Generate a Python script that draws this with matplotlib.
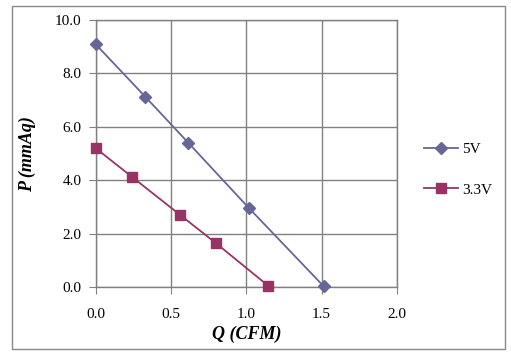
"""
Fan P-Q curve, 5V vs 3.3V
"""

import matplotlib
matplotlib.use("Agg")
import matplotlib.pyplot as plt
from matplotlib.patches import Rectangle

q_5v = [0.0, 0.33, 0.615, 1.015, 1.515]
p_5v = [9.1, 7.13, 5.41, 2.98, 0.03]

q_33v = [0.0, 0.24, 0.563, 0.797, 1.147]
p_33v = [5.21, 4.14, 2.70, 1.66, 0.05]

x_ticks = [0.0, 0.5, 1.0, 1.5, 2.0]
y_ticks = [0.0, 2.0, 4.0, 6.0, 8.0, 10.0]

plt.rcParams['font.family'] = ['Liberation Serif', 'DejaVu Serif']

fig = plt.figure(figsize=(5.11, 3.57), dpi=100)
fig.patch.set_facecolor("white")
fig.patches.append(Rectangle((11.5/511, 1-349/357), 493.5/511, 343/357,
                             transform=fig.transFigure, fill=False,
                             edgecolor="#888888", linewidth=1.0))

ax = fig.add_axes([95.5/511, 1-287.3/357, 301.5/511, 267.3/357])

ax.plot(q_5v, p_5v, color="#666699", marker="D", markersize=6,
        markerfacecolor="#666699", markeredgecolor="#666699",
        linewidth=1.3, label="5V", clip_on=False, zorder=3)
ax.plot(q_33v, p_33v, color="#993366", marker="s", markersize=7,
        markerfacecolor="#993366", markeredgecolor="#993366",
        linewidth=1.3, label="3.3V", clip_on=False, zorder=3)

ax.set_xlim(0, 2.0)
ax.set_ylim(0, 10.0)
ax.set_xticks(x_ticks)
ax.set_yticks(y_ticks)
ax.set_xticklabels(["%.1f" % v for v in x_ticks])
ax.set_yticklabels(["%.1f" % v for v in y_ticks])
ax.grid(True, color="#808080", linewidth=1.0)
ax.set_axisbelow(True)
for s in ax.spines.values():
    s.set_color("#808080")
    s.set_linewidth(1.0)
ax.tick_params(axis='both', direction='out', length=5, color="#808080",
               labelsize=11, labelcolor="black")
ax.tick_params(axis='x', pad=10)
ax.tick_params(axis='y', pad=5)

ax.set_xlabel("Q (CFM)", fontsize=13, fontweight="bold", fontstyle="italic", labelpad=3)
ax.set_ylabel("P (mmAq)", fontsize=13, fontweight="bold", fontstyle="italic", labelpad=14)

ax.legend(loc="upper left", bbox_to_anchor=(1.045, 0.593), frameon=False,
          fontsize=11, handlelength=2.2, labelspacing=1.75, handletextpad=0.25)

plt.savefig("out.png", dpi=100)
